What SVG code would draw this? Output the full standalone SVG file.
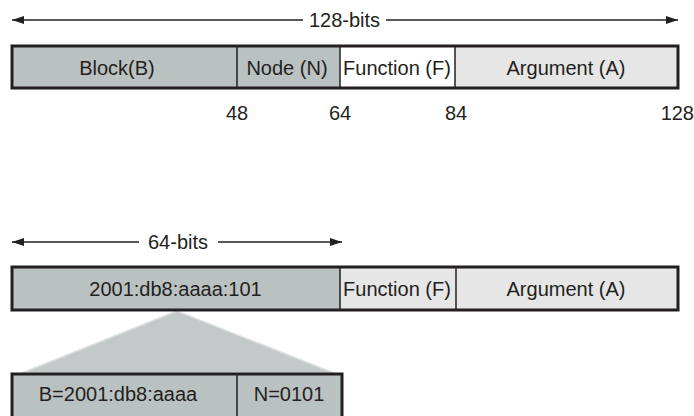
<svg xmlns="http://www.w3.org/2000/svg" width="694" height="416" viewBox="0 0 694 416">
<defs>
<marker id="ah" viewBox="0 0 12 8" refX="12" refY="4" markerWidth="12" markerHeight="8" markerUnits="userSpaceOnUse" orient="auto-start-reverse">
<path d="M0,0 L12,4 L0,8 Z" fill="#231f20"/>
</marker>
<style>
text{font-family:"Liberation Sans",Arial,sans-serif;font-size:20px;fill:#231f20}
.c{text-anchor:middle}
.r{text-anchor:end}
.g{fill:#bac2c1}
.l{fill:#e6e6e6}
.w{fill:#ffffff}
.div{stroke:#231f20;stroke-width:1.5;fill:none}
.out{stroke:#231f20;stroke-width:3;fill:none}
.ln{stroke:#231f20;stroke-width:1.5;fill:none}
</style>
</defs>
<rect width="694" height="416" fill="#ffffff"/>
<g id="connectors">
<line class="ln" x1="303" y1="20" x2="12" y2="20" marker-end="url(#ah)"/>
<line class="ln" x1="386" y1="20" x2="678" y2="20" marker-end="url(#ah)"/>
<line class="ln" x1="139" y1="242" x2="12" y2="242" marker-end="url(#ah)"/>
<line class="ln" x1="218" y1="242" x2="342" y2="242" marker-end="url(#ah)"/>
<polygon points="177,311 22,373 334,373" fill="#c3c9c8" stroke="#dcdfdf" stroke-width="1.5"/>
</g>
<text class="c" x="344.5" y="27">128-bits</text>
<text class="c" x="178" y="249">64-bits</text>
<g id="bar128">
<rect class="g" x="12" y="46" width="225" height="42"/>
<rect class="g" x="237" y="46" width="103" height="42"/>
<rect class="w" x="340" y="46" width="115" height="42"/>
<rect class="l" x="455" y="46" width="223" height="42"/>
<line class="div" x1="237" y1="46" x2="237" y2="88"/>
<line class="div" x1="340" y1="46" x2="340" y2="88"/>
<line class="div" x1="455" y1="46" x2="455" y2="88"/>
<rect class="out" x="12" y="46" width="666" height="42"/>
<text class="c" x="117" y="75">Block(B)</text>
<text class="c" x="287" y="75">Node (N)</text>
<text class="c" x="397" y="75">Function (F)</text>
<text class="c" x="566" y="75">Argument (A)</text>
</g>
<g id="ticks">
<text class="c" x="237" y="120">48</text>
<text class="c" x="340" y="120">64</text>
<text class="c" x="456" y="120">84</text>
<text class="r" x="694" y="120">128</text>
</g>
<g id="bar64">
<rect class="g" x="12" y="267" width="328" height="43"/>
<rect class="l" x="340" y="267" width="116" height="43"/>
<rect class="l" x="456" y="267" width="222" height="43"/>
<line class="div" x1="340" y1="267" x2="340" y2="310"/>
<line class="div" x1="456" y1="267" x2="456" y2="310"/>
<rect class="out" x="12" y="267" width="666" height="43"/>
<text class="c" x="175.5" y="296">2001:db8:aaaa:101</text>
<text class="c" x="397" y="296">Function (F)</text>
<text class="c" x="566" y="296">Argument (A)</text>
</g>
<g id="barBN">
<rect class="g" x="12" y="374" width="330" height="44"/>
<line class="div" x1="237" y1="374" x2="237" y2="418"/>
<rect class="out" x="12" y="374" width="330" height="44"/>
<text class="c" x="118" y="401">B=2001:db8:aaaa</text>
<text class="c" x="289" y="401">N=0101</text>
</g>
</svg>
